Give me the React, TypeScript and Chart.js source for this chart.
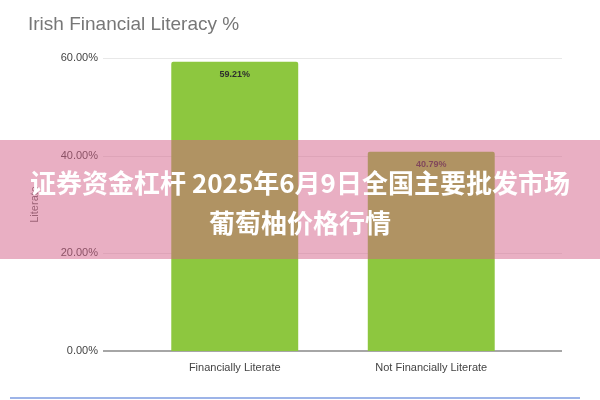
import { useEffect, useRef } from 'react';
import { Chart, registerables } from 'chart.js';

Chart.register(...registerables);

// chart data
const categories = ['Financially Literate', 'Not Financially Literate'];
const literacyValues = [59.21, 40.79];
const yTicks = [0, 20, 40, 60];

const chartTitle = 'Irish Financial Literacy %';
const yAxisTitle = 'Literate';
const bannerLines = ['证券资金杠杆 2025年6月9日全国主要批发市场', '葡萄柚价格行情'];

const fmt = (v: number) => v.toFixed(2) + '%';

// gridlines run wider than the bar area, so they are drawn by hand
const gridPlugin = {
  id: 'wideGrid',
  beforeDatasetsDraw(chart: any) {
    const { ctx, scales } = chart;
    const y = scales.y;
    ctx.save();
    yTicks.forEach(t => {
      const py = Math.round(y.getPixelForValue(t));
      ctx.beginPath();
      if (t === 0) {
        ctx.strokeStyle = '#a6a6a6';
        ctx.lineWidth = 2;
        ctx.moveTo(103, py);
        ctx.lineTo(562, py);
      } else {
        ctx.strokeStyle = '#e8e8e8';
        ctx.lineWidth = 1;
        ctx.moveTo(103, py + 0.5);
        ctx.lineTo(562, py + 0.5);
      }
      ctx.stroke();
    });
    ctx.restore();
  },
};

const valueLabels = {
  id: 'valueLabels',
  afterDatasetsDraw(chart: any) {
    const { ctx } = chart;
    const meta = chart.getDatasetMeta(0);
    ctx.save();
    ctx.font = 'bold 9px "Liberation Sans", Arial, sans-serif';
    ctx.fillStyle = '#2e2e2e';
    ctx.textAlign = 'center';
    ctx.textBaseline = 'middle';
    meta.data.forEach((bar: any, i: number) => {
      ctx.fillText(fmt(literacyValues[i]), bar.x, bar.y + 13);
    });
    ctx.restore();
  },
};

const App = () => {
  const canvasRef = useRef<HTMLCanvasElement>(null);
  const chartInstanceRef = useRef<Chart | null>(null);

  useEffect(() => {
    document.body.style.margin = '0';
    if (!canvasRef.current) return;
    const ctx = canvasRef.current.getContext('2d');
    if (!ctx) return;

    chartInstanceRef.current = new Chart(ctx, {
      type: 'bar',
      data: {
        labels: categories,
        datasets: [{
          label: yAxisTitle,
          data: literacyValues,
          backgroundColor: '#8dc73f',
          borderRadius: { topLeft: 2, topRight: 2, bottomLeft: 0, bottomRight: 0 },
          borderSkipped: 'bottom',
          categoryPercentage: 1,
          barPercentage: 0.646,
        }],
      },
      options: {
        responsive: false,
        animation: false,
        layout: { padding: { left: 28, right: 70.5, top: 0, bottom: 0 } },
        plugins: {
          legend: { display: false },
          tooltip: { enabled: false },
          title: {
            display: true,
            text: chartTitle,
            align: 'start',
            color: '#777777',
            font: { family: '"Liberation Sans", Arial, sans-serif', size: 19, weight: 'normal' },
            padding: { top: 13, bottom: 22 },
          },
        },
        scales: {
          x: {
            grid: { display: false, drawTicks: false },
            border: { display: false },
            ticks: {
              color: '#444444',
              padding: 10,
              font: { family: '"Liberation Sans", Arial, sans-serif', size: 11 },
            },
            afterFit: (scale: any) => { scale.height = 49; },
          },
          y: {
            min: 0,
            max: 60,
            grid: { display: false, drawTicks: false },
            border: { display: false },
            afterBuildTicks: (scale: any) => { scale.ticks = yTicks.map(v => ({ value: v })); },
            ticks: {
              color: '#444444',
              padding: 38.5,
              font: { family: '"Liberation Sans", Arial, sans-serif', size: 11 },
              callback: (v: any) => fmt(Number(v)),
            },
            title: {
              display: true,
              text: yAxisTitle,
              color: '#666666',
              padding: 0,
              font: { family: '"Liberation Sans", Arial, sans-serif', size: 11 },
            },
            afterFit: (scale: any) => { scale.width = 108.5; },
          },
        },
      },
      plugins: [gridPlugin, valueLabels],
    });

    return () => {
      if (chartInstanceRef.current) {
        chartInstanceRef.current.destroy();
        chartInstanceRef.current = null;
      }
    };
  }, []);

  return (
    <div style={{ position: 'relative', width: 600, height: 400, background: '#fff', overflow: 'hidden' }}>
      <canvas ref={canvasRef} width={600} height={400}></canvas>
      {/* pink banner laid over the chart */}
      <div style={{
        position: 'absolute', left: 0, top: 140, width: 600, height: 119,
        background: 'rgba(211, 95, 135, 0.5)',
      }} />
      <div style={{
        position: 'absolute', left: 0, top: 162, width: 600, textAlign: 'center',
        color: '#ffffff', fontFamily: '"Noto Sans CJK SC", sans-serif', fontWeight: 700,
        fontSize: 26, lineHeight: '40px',
      }}>
        {bannerLines.map(line => <div key={line}>{line}</div>)}
      </div>
      <div style={{ position: 'absolute', left: 10, top: 397, width: 570, height: 2, background: '#9db4e8' }} />
    </div>
  );
};

export default App;
